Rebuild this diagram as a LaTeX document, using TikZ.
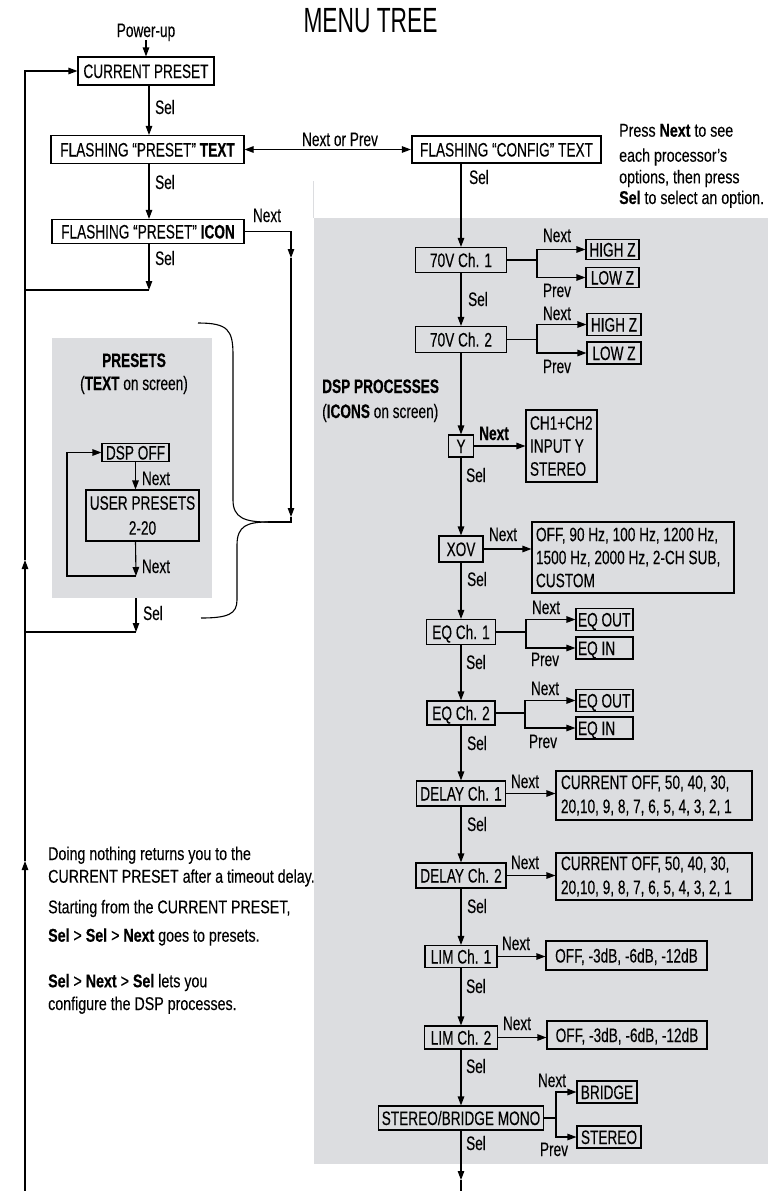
\documentclass[tikz,border=0pt]{standalone}
\usepackage{fontspec}
\setmainfont{Liberation Sans}[FakeStretch=0.70, UprightFeatures={FakeBold=0.2}, BoldFeatures={FakeBold=0.5}]
\newfontfamily\notefont{Liberation Sans}[FakeStretch=0.77, UprightFeatures={FakeBold=0.2}, BoldFeatures={FakeBold=0.5}]
\newfontfamily\titlefont{Liberation Sans}[FakeStretch=0.65]
\usetikzlibrary{arrows.meta}
\definecolor{panel}{RGB}{220,221,224}
\newcommand\lfix[2]{\makebox[#1][l]{#2}}
\begin{document}
\begin{tikzpicture}[x=1pt,y=-1pt,
  every node/.style={font=\fontsize{19.5}{23}\selectfont},
  bx/.style={draw, line width=1.1pt, inner sep=0pt, text height=14pt, text depth=0pt},
  mbx/.style={draw, line width=1.1pt, inner ysep=0pt},
  lbl/.style={inner sep=0pt, text height=14pt, text depth=0pt},
  note/.style={inner sep=0pt, anchor=base west, font=\notefont\fontsize{18.5}{23}\selectfont},
  ln/.style={line width=1.1pt},
  arr/.style={line width=1.1pt, -{Triangle[length=9pt,width=6.5pt]}},
  arrtwo/.style={line width=1.1pt, {Triangle[length=9pt,width=6.5pt]}-{Triangle[length=9pt,width=6.5pt]}},
  optl/.style={bx, inner xsep=2pt, minimum height=22pt}
]
\useasboundingbox (0,0) rectangle (782,1191);
% panels
\fill[panel] (314,218) rectangle (768,1164);
\fill[panel] (52,338) rectangle (212,598);
\draw[panel, line width=0.8pt] (313.5,181) -- (313.5,218);

% title
\node[inner sep=0pt, text height=25pt, text depth=0pt, font=\titlefont\fontsize{35}{40}\selectfont] (title) at (370.5,19.5) {MENU TREE};

% left column
\node[lbl] (pwr) at (146,30) {Power-up};
\node[bx, minimum width=136pt, minimum height=28pt] (cur) at (146,71) {CURRENT PRESET};
\node[bx, minimum width=193pt, minimum height=28pt] (ptext) at (147.5,149.5) {FLASHING “PRESET” \textbf{TEXT}};
\node[bx, minimum width=192pt, minimum height=24pt] (picon) at (148,231.5) {FLASHING “PRESET” \textbf{ICON}};
\node[bx, line width=2.2pt, minimum width=189pt, minimum height=27pt] (config) at (506.5,149.5) {FLASHING “CONFIG” TEXT};

% presets
\node[lbl, font=\fontsize{19.5}{23}\selectfont\bfseries] (prs) at (134,360) {PRESETS};
\node[lbl] (prs2) at (134,383) {(\textbf{TEXT} on screen)};
\node[bx, minimum width=67pt, minimum height=18pt] (dspoff) at (135.5,452.5) {DSP OFF};
\node[mbx, inner xsep=0pt, minimum width=113pt, minimum height=51pt, align=center] (up) at (142.5,515.5) {USER PRESETS\\[2pt]2-20};

% right column
\node[bx, minimum width=91pt, minimum height=25pt] (c1) at (461,260) {70V Ch. 1};
\node[bx, minimum width=53pt, minimum height=20pt] (hz1) at (612.5,249.5) {HIGH Z};
\node[bx, minimum width=53pt, minimum height=20pt] (lz1) at (612.5,277.5) {LOW Z};
\node[bx, minimum width=91pt, minimum height=26pt] (c2) at (461,339.5) {70V Ch. 2};
\node[bx, minimum width=54pt, minimum height=22pt] (hz2) at (614,324.5) {HIGH Z};
\node[bx, minimum width=54pt, minimum height=22pt] (lz2) at (614,353) {LOW Z};
\node[lbl, anchor=west] (dspp) at (322,386) {\textbf{DSP PROCESSES}};
\node[lbl, anchor=west] (dspp2) at (322,411) {(\textbf{ICONS} on screen)};
\node[bx, minimum width=25pt, minimum height=22pt] (yb) at (461,446) {Y};
\node[mbx, inner xsep=4pt, minimum height=72pt, align=left] (ch) at (561.5,446) {\lfix{63pt}{CH1+CH2}\\\lfix{63pt}{INPUT Y}\\\lfix{63pt}{STEREO}};
\node[bx, minimum width=44pt, minimum height=26pt] (xov) at (461,549) {XOV};
\node[mbx, inner xsep=4pt, minimum height=71pt, align=left] (offb) at (633,557.5) {\lfix{194pt}{OFF, 90 Hz, 100 Hz, 1200 Hz,}\\\lfix{194pt}{1500 Hz, 2000 Hz, 2-CH SUB,}\\\lfix{194pt}{CUSTOM}};
\node[bx, minimum width=69pt, minimum height=25pt] (eq1) at (461,632) {EQ Ch. 1};
\node[optl] (eqo1) at (604.5,619.5) {\lfix{53pt}{EQ OUT}};
\node[optl] (eqi1) at (604.5,648) {\lfix{53pt}{EQ IN}};
\node[bx, minimum width=68pt, minimum height=24pt] (eq2) at (461,713) {EQ Ch. 2};
\node[optl] (eqo2) at (604.5,700.5) {\lfix{53pt}{EQ OUT}};
\node[optl] (eqi2) at (604.5,728) {\lfix{53pt}{EQ IN}};
\node[bx, minimum width=89pt, minimum height=25pt] (d1) at (461,793.5) {DELAY Ch. 1};
\node[mbx, inner xsep=5pt, minimum height=49pt, align=left] (cu1) at (654,795.5) {\lfix{186pt}{CURRENT OFF, 50, 40, 30,}\\[1pt]\lfix{186pt}{20,10, 9, 8, 7, 6, 5, 4, 3, 2, 1}};
\node[bx, minimum width=90pt, minimum height=25pt] (d2) at (461,875.5) {DELAY Ch. 2};
\node[mbx, inner xsep=5pt, minimum height=47pt, align=left] (cu2) at (654,876.5) {\lfix{186pt}{CURRENT OFF, 50, 40, 30,}\\[1pt]\lfix{186pt}{20,10, 9, 8, 7, 6, 5, 4, 3, 2, 1}};
\node[bx, minimum width=72pt, minimum height=22pt] (l1) at (461,956.5) {LIM Ch. 1};
\node[bx, minimum width=161pt, minimum height=29pt] (o1) at (626.5,955.5) {OFF, -3dB, -6dB, -12dB};
\node[bx, minimum width=73pt, minimum height=23pt] (l2) at (461,1037.5) {LIM Ch. 2};
\node[bx, minimum width=160pt, minimum height=28pt] (o2) at (627,1035) {OFF, -3dB, -6dB, -12dB};
\node[bx, minimum width=165pt, minimum height=24pt] (sb) at (461,1118) {STEREO/BRIDGE MONO};
\node[bx, minimum width=60pt, minimum height=22pt] (br) at (607,1092) {BRIDGE};
\node[bx, minimum width=64pt, minimum height=22pt] (st) at (609,1137) {STEREO};

% notes
\node[note] (n1) at (619,136.7) {Press \textbf{Next} to see};
\node[note] (n2) at (619,161.7) {each processor’s};
\node[note] (n3) at (619,183.3) {options, then press};
\node[note] (n4) at (619,204) {\textbf{Sel} to select an option.};
\node[note] (m1) at (48,860) {Doing nothing returns you to the};
\node[note] (m2) at (48,882.7) {CURRENT PRESET after a timeout delay.};
\node[note] (m3) at (48,913.3) {Starting from the CURRENT PRESET,};
\node[note] (m4) at (48,941.7) {\textbf{Sel} > \textbf{Sel} > \textbf{Next} goes to presets.};
\node[note] (m5) at (48,987.3) {\textbf{Sel} > \textbf{Next} > \textbf{Sel} lets you};
\node[note] (m6) at (48,1010) {configure the DSP processes.};

% labels left
\node[lbl] (s1) at (165,107) {Sel};
\node[lbl] (s2) at (165,182) {Sel};
\node[lbl] (s3) at (165,258) {Sel};
\node[lbl] (nx) at (267,215) {Next};
\node[lbl] (nop) at (340,139) {Next or Prev};
\node[lbl] (pn1) at (156,478) {Next};
\node[lbl] (pn2) at (156,566) {Next};
\node[lbl] (psl) at (153,613) {Sel};

% labels right
\node[lbl] (rs1) at (479,177) {Sel};
\node[lbl] (rs2) at (478,299) {Sel};
\node[lbl] (rs3) at (476,475) {Sel};
\node[lbl] (rs4) at (477,579) {Sel};
\node[lbl] (rs5) at (476,662) {Sel};
\node[lbl] (rs6) at (477,743) {Sel};
\node[lbl] (rs7) at (477,824) {Sel};
\node[lbl] (rs8) at (477,906) {Sel};
\node[lbl] (rs9) at (476,986) {Sel};
\node[lbl] (rs10) at (476,1066) {Sel};
\node[lbl] (rs11) at (476,1143) {Sel};
\node[lbl] (rn1) at (557,235) {Next};
\node[lbl] (rn2) at (557,313) {Next};
\node[lbl] (rn3) at (494,433) {\textbf{Next}};
\node[lbl] (rn4) at (503,534) {Next};
\node[lbl] (rn5) at (546,607) {Next};
\node[lbl] (rn6) at (545,688) {Next};
\node[lbl] (rn7) at (525,781) {Next};
\node[lbl] (rn8) at (525,862) {Next};
\node[lbl] (rn9) at (516,943) {Next};
\node[lbl] (rn10) at (517,1023) {Next};
\node[lbl] (rn11) at (552,1080) {Next};
\node[lbl] (rp1) at (557,290) {Prev};
\node[lbl] (rp2) at (557,366) {Prev};
\node[lbl] (rp3) at (545,659) {Prev};
\node[lbl] (rp4) at (543,741) {Prev};
\node[lbl] (rp5) at (554,1149) {Prev};

% coordinates
\coordinate (colA) at (149,0);
\coordinate (j1s) at (149,290);
\coordinate (jL1) at (25,290);
\coordinate (bT) at (291,231.5);
\coordinate (bM1) at (291,258);
\coordinate (bM2) at (291,517);
\coordinate (bC) at (291,522);
\coordinate (bTip) at (268,522);
\coordinate (pq) at (136,576);
\coordinate (pl) at (67,576);
\coordinate (ps1) at (136,598);
\coordinate (ps2) at (136,632);
\coordinate (jL2) at (25,632);
\coordinate (lB) at (25,1191);
\coordinate (lA1) at (25,861);
\coordinate (lA2) at (25,560);
\coordinate (lT) at (25,71);
\coordinate (k1) at (537,260);
\coordinate (k2) at (537,339.5);
\coordinate (k3) at (526,632);
\coordinate (k4) at (525,713);
\coordinate (k5) at (556,1118);
\coordinate (endA) at (461,1180);
\coordinate (endB) at (461,1191);

% connectors left
\draw[arr] ([yshift=-3pt]pwr.south) -- (cur.north);
\draw[arr] (cur.south -| colA) -- (ptext.north -| colA);
\draw[arr] (ptext.south -| colA) -- (picon.north -| colA);
\draw[arr] (picon.south -| colA) -- (j1s);
\draw[ln] (j1s) -- (jL1);
\draw[arrtwo] (ptext.east) -- (config.west);
\draw[arr] (picon.east) -- (bT) -- (bM1);
\draw[arr] (bM1) -- (bM2);
\draw[ln] (bM2) -- (bC) -- (bTip);
% brace
\draw[ln] (198,323) .. controls (228,323) and (233,330) .. (233,355) -- (233,500) .. controls (233,518) and (245,522) .. (bTip);
\draw[ln] (bTip) .. controls (247,522) and (237,526) .. (237,545) -- (237,600) .. controls (237,614) and (228,618) .. (201,618);
% presets loop
\draw[arr] (dspoff.south) -- (dspoff.south |- up.north);
\draw[arr] (dspoff.south |- up.south) -- (pq);
\draw[arr] (pq) -- (pl) |- (dspoff.west);
\draw[arr] (ps1) -- (ps2);
\draw[ln] (ps2) -- (jL2);
% main return line
\draw[arr] (lB) -- (lA1);
\draw[arr] (lA1) -- (lA2);
\draw[arr] (lA2) -- (lT) -- (cur.west);

% connectors right
\draw[arr] (config.south -| c1.north) -- (c1.north);
\draw[arr] (c1) -- (c2);
\draw[arr] (c2) -- (yb);
\draw[arr] (yb) -- (xov);
\draw[arr] (xov) -- (eq1);
\draw[arr] (eq1) -- (eq2);
\draw[arr] (eq2) -- (d1);
\draw[arr] (d1) -- (d2);
\draw[arr] (d2) -- (l1);
\draw[arr] (l1) -- (l2);
\draw[arr] (l2) -- (sb);
\draw[arr] (sb) -- (endA);
\draw[ln] (endA) -- (endB);

\draw[ln] (c1.east) -- (k1);
\draw[arr] (k1) |- (hz1.west);
\draw[arr] (k1) |- (lz1.west);
\draw[ln] (c2.east) -- (k2);
\draw[arr] (k2) |- (hz2.west);
\draw[arr] (k2) |- (lz2.west);
\draw[arr] (yb) -- (ch);
\draw[arr] (xov.east) -- (xov.east -| offb.west);
\draw[ln] (eq1.east) -- (k3);
\draw[arr] (k3) |- (eqo1.west);
\draw[arr] (k3) |- (eqi1.west);
\draw[ln] (eq2.east) -- (k4);
\draw[arr] (k4) |- (eqo2.west);
\draw[arr] (k4) |- (eqi2.west);
\draw[arr] (d1.east) -- (d1.east -| cu1.west);
\draw[arr] (d2.east) -- (d2.east -| cu2.west);
\draw[arr] (l1.east) -- (l1.east -| o1.west);
\draw[arr] (l2.east) -- (l2.east -| o2.west);
\draw[ln] (sb.east) -- (k5);
\draw[arr] (k5) |- (br.west);
\draw[arr] (k5) |- (st.west);
\end{tikzpicture}
\end{document}
